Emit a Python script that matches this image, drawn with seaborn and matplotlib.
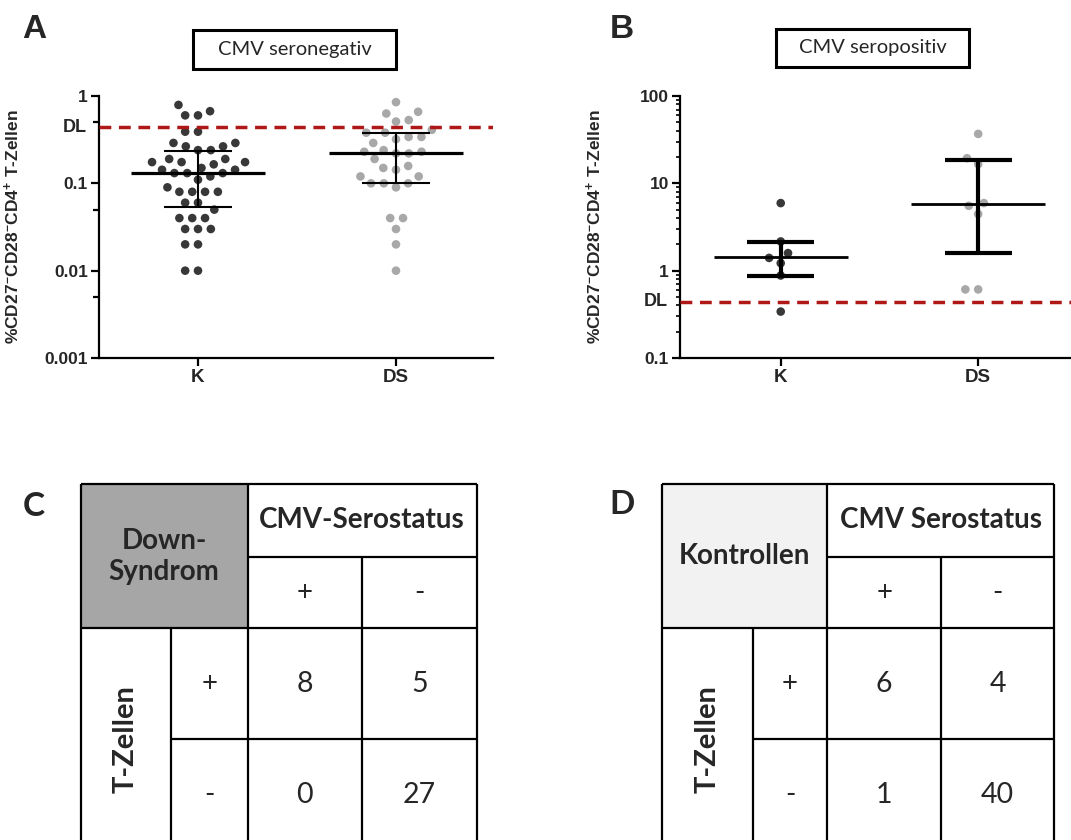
import numpy as np
import pandas as pd
import matplotlib
matplotlib.use("Agg")
import matplotlib.pyplot as plt
import seaborn as sns
from matplotlib.patches import Rectangle
from matplotlib.collections import LineCollection
from matplotlib.ticker import LogLocator, NullFormatter

# ---- daten ----
groups = ["K", "DS"]

# A: CMV seronegativ
neg_k = [0.79, 0.60, 0.60, 0.67, 0.39, 0.39, 0.29, 0.29, 0.265, 0.265,
         0.24, 0.24, 0.19, 0.19, 0.175, 0.175, 0.175, 0.165, 0.15, 0.143,
         0.143, 0.131, 0.131, 0.131, 0.12, 0.11, 0.09, 0.08, 0.08, 0.08,
         0.08, 0.06, 0.06, 0.05, 0.04, 0.04, 0.04, 0.03, 0.03, 0.03,
         0.02, 0.02, 0.01, 0.01]
neg_ds = [0.85, 0.63, 0.66, 0.53, 0.51, 0.41, 0.38, 0.38, 0.34, 0.34,
          0.32, 0.29, 0.24, 0.23, 0.23, 0.22, 0.22, 0.19, 0.158, 0.15,
          0.143, 0.12, 0.12, 0.10, 0.10, 0.10, 0.09, 0.04, 0.04, 0.03,
          0.02, 0.01]
neg_median = [0.13, 0.22]
neg_q1 = [0.053, 0.102]
neg_q3 = [0.235, 0.375]

# B: CMV seropositiv
pos_k = [5.94, 2.16, 1.59, 1.40, 1.22, 0.88, 0.34]
pos_ds = [36.8, 19.4, 16.6, 5.94, 5.53, 4.45, 0.61, 0.61]
pos_median = [1.42, 5.8]
pos_q1 = [0.86, 1.59]
pos_q3 = [2.13, 18.6]

dl = 0.44  # detection limit

# C / D: vierfeldertafeln
signs = ["+", "-"]
ds_counts = [[8, 5], [0, 27]]
k_counts = [[6, 4], [1, 40]]

# ---- stil ----
sns.set_theme(style="ticks")
plt.rcParams["font.family"] = ["Liberation Sans", "DejaVu Sans"]
plt.rcParams["mathtext.fontset"] = "custom"
plt.rcParams["mathtext.rm"] = "Liberation Sans:bold"
plt.rcParams["mathtext.bf"] = "Liberation Sans:bold"
plt.rcParams["mathtext.default"] = "rm"

dark = "#383838"
light = "#a8a8a8"
red = "#b01818"
calibri = ["Lato", "DejaVu Sans"]

W, H = 1071, 840
fig = plt.figure(figsize=(W / 100, H / 100), dpi=100)


def px_axes(l, t, r, b):
    return fig.add_axes([l / W, 1 - b / H, (r - l) / W, (b - t) / H])


def scatter_panel(ax, k_vals, ds_vals, med, q1, q3, ylim, xlim, lw_med, lw_err):
    df = pd.DataFrame({"group": ["K"] * len(k_vals) + ["DS"] * len(ds_vals),
                       "value": k_vals + ds_vals})
    sns.swarmplot(data=df, x="group", y="value", hue="group", order=groups,
                  hue_order=groups, palette=[dark, light], size=7.5,
                  linewidth=1.3, edgecolor="white", log_scale=True,
                  legend=False, ax=ax, zorder=2)
    pos = np.arange(len(groups))
    ax.hlines(med, pos - 0.34, pos + 0.34, color="black", lw=lw_med, zorder=3)
    ax.vlines(pos, q1, q3, color="black", lw=lw_err, zorder=3)
    ax.hlines(q1, pos - 0.17, pos + 0.17, color="black", lw=lw_err, zorder=3)
    ax.hlines(q3, pos - 0.17, pos + 0.17, color="black", lw=lw_err, zorder=3)
    ax.axhline(dl, color=red, lw=2.5, dashes=(3.4, 2.2), zorder=4)
    ax.set_ylim(*ylim)
    ax.set_xlim(*xlim)
    ax.set_xlabel("")
    ax.set_ylabel("%CD27$^{-}$CD28$^{-}$CD4$^{+}$ T-Zellen",
                  fontsize=12.5, fontweight="bold")
    ax.yaxis.set_label_coords(-0.195, 0.5)
    for s in ["top", "right"]:
        ax.spines[s].set_visible(False)
    for s in ["left", "bottom"]:
        ax.spines[s].set_linewidth(1.6)
        ax.spines[s].set_color("black")
    ax.tick_params(axis="both", which="major", length=5.5, width=1.6,
                   color="black", pad=2.5, labelsize=12.5)
    ax.tick_params(axis="x", labelsize=13.5)
    for lab in ax.get_xticklabels() + ax.get_yticklabels():
        lab.set_fontweight("bold")
    ax.annotate("DL", xy=(0, dl), xycoords=("axes fraction", "data"),
                xytext=(-8.5, 0), textcoords="offset points", ha="right",
                va="center", fontsize=13, fontweight="bold")


# A
axA = px_axes(99, 96, 493, 358)
scatter_panel(axA, neg_k, neg_ds, neg_median, neg_q1, neg_q3,
              (0.001, 1), (-0.5, 1.49), 2.3, 1.5)
axA.set_yticks([0.001, 0.01, 0.1, 1], labels=["0.001", "0.01", "0.1", "1"])
axA.set_yticks([0.005, 0.05, 0.5], minor=True)
axA.yaxis.set_minor_formatter(NullFormatter())
axA.tick_params(axis="y", which="minor", length=4.5, width=1.6, color="black")
for lab in axA.get_yticklabels():
    lab.set_fontweight("bold")

# B
axB = px_axes(680, 96, 1071, 358)
scatter_panel(axB, pos_k, pos_ds, pos_median, pos_q1, pos_q3,
              (0.1, 100), (-0.51, 1.47), 2.0, 3.0)
axB.set_yticks([0.1, 1, 10, 100], labels=["0.1", "1", "10", "100"])
axB.yaxis.set_minor_locator(LogLocator(base=10, subs=np.arange(2, 10)))
axB.yaxis.set_minor_formatter(NullFormatter())
axB.tick_params(axis="y", which="minor", length=3, width=1.2, color="black")
for lab in axB.get_yticklabels():
    lab.set_fontweight("bold")

# ---- overlay fuer boxen, buchstaben, tabellen ----
over = fig.add_axes([0, 0, 1, 1])
over.set_xlim(0, W)
over.set_ylim(H, 0)
over.axis("off")

for (l, t, r, b), title in [((193, 30, 396, 69), "CMV seronegativ"),
                            ((776, 29, 969, 67), "CMV seropositiv")]:
    over.add_patch(Rectangle((l, t), r - l, b - t, facecolor="white",
                             edgecolor="black", lw=2.2))
    over.text((l + r) / 2, (t + b) / 2, title, ha="center", va="center",
              fontsize=14.5, family=calibri)

over.text(34, 29, "A", ha="center", va="center", fontsize=24, fontweight="bold")
over.text(622, 29, "B", ha="center", va="center", fontsize=24, fontweight="bold")
over.text(34, 507, "C", ha="center", va="center", fontsize=24,
          fontweight="bold", family=calibri)
over.text(622, 505, "D", ha="center", va="center", fontsize=24,
          fontweight="bold", family=calibri)


def draw_table(xe, ye, corner, corner_color, header, counts):
    x0, x1, x2, x3, x4 = xe
    y0, y1, y2, y3, y4 = ye
    over.add_patch(Rectangle((x0, y0), x2 - x0, y2 - y0,
                             facecolor=corner_color, edgecolor="none"))
    segs = [[(x0, y0), (x4, y0)], [(x2, y1), (x4, y1)], [(x0, y2), (x4, y2)],
            [(x1, y3), (x4, y3)], [(x0, y0), (x0, y4)], [(x4, y0), (x4, y4)],
            [(x2, y0), (x2, y4)], [(x3, y1), (x3, y4)], [(x1, y2), (x1, y4)]]
    over.add_collection(LineCollection(segs, colors="black", linewidths=1.6))
    over.text((x0 + x2) / 2, (y0 + y2) / 2, corner, ha="center", va="center",
              fontsize=20, fontweight="bold", family=calibri, linespacing=1.25)
    over.text((x2 + x4) / 2, (y0 + y1) / 2, header, ha="center", va="center",
              fontsize=20, fontweight="bold", family=calibri)
    over.text((x0 + x1) / 2, (y2 + y4) / 2, "T-Zellen", ha="center",
              va="center", rotation=90, fontsize=21, fontweight="bold",
              family=calibri)
    cols = [(x2 + x3) / 2, (x3 + x4) / 2]
    rows = [(y2 + y3) / 2, (y3 + y4) / 2]
    for j, s in enumerate(signs):
        over.text(cols[j], (y1 + y2) / 2, s, ha="center", va="center",
                  fontsize=20, family=calibri)
        over.text((x1 + x2) / 2, rows[j], s, ha="center", va="center",
                  fontsize=20, family=calibri)
    for i in range(2):
        for j in range(2):
            over.text(cols[j], rows[i], str(counts[i][j]), ha="center",
                      va="center", fontsize=20.5, family=calibri)


ty = [484, 557, 628.3, 739.3, 850.3]
draw_table([80.7, 171, 247.5, 362.3, 476.7], ty, "Down-\nSyndrom", "#a6a6a6",
           "CMV-Serostatus", ds_counts)
draw_table([661.7, 752.7, 827.3, 941, 1054.3], ty, "Kontrollen", "#f2f2f2",
           "CMV Serostatus", k_counts)

fig.savefig("out.png", dpi=100)
